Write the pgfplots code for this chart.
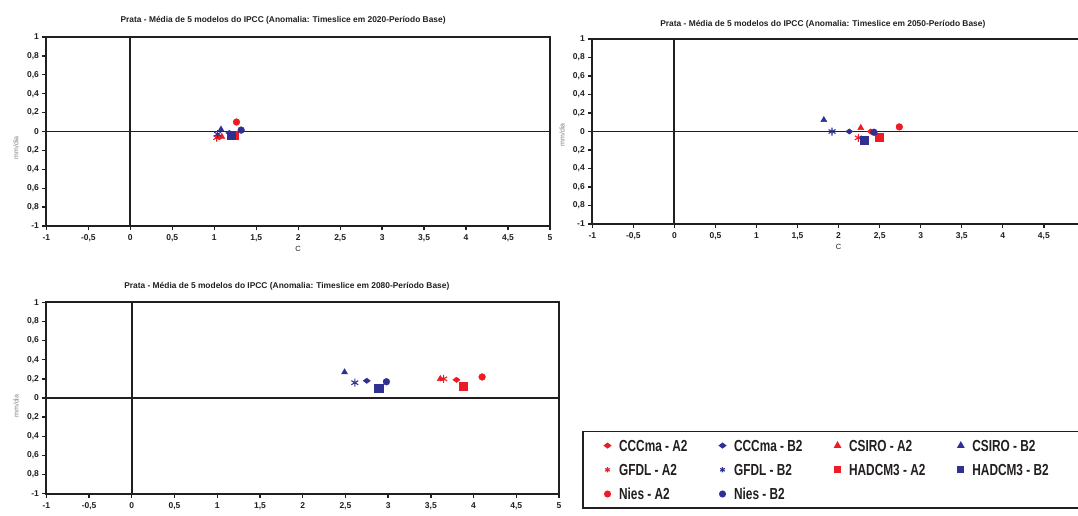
\documentclass[border=0pt]{standalone}
\usepackage{fontspec}
\setmainfont{Liberation Sans}
\usepackage{graphicx}
\usepackage{pgfplots}
\pgfplotsset{compat=1.18}
\definecolor{redc}{HTML}{ED1C24}
\definecolor{bluec}{HTML}{2E3192}
\definecolor{axc}{HTML}{231F20}
\newcommand{\legtxt}[2]{\makebox[#1][l]{\scalebox{0.74}[1]{#2}}}
\pgfplotsset{
 legimg/.style={legend image code/.code={\path[draw=none,fill=none] (-6pt,-3pt) rectangle (11.6pt,3pt);\draw[##1,mark size=#1] plot coordinates {(0pt,0pt)};}},
 cA/.style={only marks, color=redc, mark=diamond*, mark size=3.6pt, mark options={rotate=90}, legimg=2.8pt},
 cB/.style={only marks, color=bluec, mark=diamond*, mark size=3.6pt, mark options={rotate=90}, legimg=2.8pt},
 sA/.style={only marks, color=redc, mark=triangle*, mark size=3.5pt, legimg=2.9pt},
 sB/.style={only marks, color=bluec, mark=triangle*, mark size=3.5pt, legimg=2.9pt},
 gA/.style={only marks, color=redc, mark=asterisk, mark size=4pt, mark options={line width=1.1pt}, legimg=2.7pt},
 gB/.style={only marks, color=bluec, mark=asterisk, mark size=4pt, mark options={line width=1.1pt}, legimg=2.7pt},
 hA/.style={only marks, color=redc, mark=square*, mark size=4.1pt, legimg=2.7pt},
 hB/.style={only marks, color=bluec, mark=square*, mark size=4.1pt, legimg=2.7pt},
 nA/.style={only marks, color=redc, mark=*, mark size=3.4pt, legimg=2.7pt},
 nB/.style={only marks, color=bluec, mark=*, mark size=3.4pt, legimg=2.7pt},
 zl/.style={forget plot, no marks, line width=1.9pt, color=axc},
 base/.style={
  scale only axis, anchor=south west,
  xmin=-1, xmax=5, ymin=-1, ymax=1,
  xtick={-1,-0.5,0,0.5,1,1.5,2,2.5,3,3.5,4,4.5,5},
  xticklabels={-1,{-0,5},0,{0,5},1,{1,5},2,{2,5},3,{3,5},4,{4,5},5},
  ytick={-1,-0.8,-0.6,-0.4,-0.2,0,0.2,0.4,0.6,0.8,1},
  yticklabels={-1,{0,8},{0,6},{0,4},{0,2},0,{0,2},{0,4},{0,6},{0,8},1},
  tick align=outside, xtick pos=left, ytick pos=left,
  major tick length=4pt, tick style={line width=1.3pt, axc},
  axis line style={line width=1.9pt, axc},
  ticklabel style={font=\fontsize{8.5}{9}\selectfont\bfseries, text=axc},
  xticklabel style={yshift=-1pt},
  every axis title shift=0pt,
  title style={font=\fontsize{8.4}{9.5}\selectfont\bfseries, anchor=center, text=axc},
 },
}
\begin{document}
\begin{tikzpicture}[x=1pt,y=1pt]
\useasboundingbox (0,0) rectangle (1078,515);
% ---------- 2020 ----------
\begin{axis}[base, at={(46.4pt,289pt)}, width=503.6pt, height=189pt,
 title={Prata - Média de 5 modelos do IPCC (Anomalia: Timeslice em 2020-Período Base)},
 title style={at={(axis description cs:0.47,1.086)}},
 xlabel={C},
 every axis x label/.style={at={(axis description cs:0.5,-0.1217)}, anchor=center, font=\fontsize{7.5}{8}\selectfont, text=axc},
 ylabel={mm/dia},
 every axis y label/.style={at={(axis description cs:-0.0604,0.413)}, rotate=90, anchor=center, font=\fontsize{7}{8}\selectfont, text=gray},
]
\addplot[zl] coordinates {(0,-1) (0,1)};
\addplot[zl] coordinates {(-1,0) (5,0)};
\addplot[cA] coordinates {(1.06,-0.06)};
\addplot[cB] coordinates {(1.18,-0.015)};
\addplot[sA] coordinates {(1.09,-0.055)};
\addplot[sB] coordinates {(1.08,0.022)};
\addplot[gA] coordinates {(1.03,-0.065)};
\addplot[gB] coordinates {(1.04,-0.028)};
\addplot[hA] coordinates {(1.24,-0.04)};
\addplot[hB] coordinates {(1.20,-0.035)};
\addplot[nA] coordinates {(1.265,0.10)};
\addplot[nB] coordinates {(1.32,0.015)};
\end{axis}
% ---------- 2050 ----------
\begin{axis}[base, at={(592.3pt,291pt)}, width=492.6pt, height=185pt,
 xticklabels={-1,{-0,5},0,{0,5},1,{1,5},2,{2,5},3,{3,5},4,{4,5},{}},
 title={Prata - Média de 5 modelos do IPCC (Anomalia: Timeslice em 2050-Período Base)},
 title style={at={(axis description cs:0.468,1.081)}},
 xlabel={C},
 every axis x label/.style={at={(axis description cs:0.5,-0.1227)}, anchor=center, font=\fontsize{7.5}{8}\selectfont, text=axc},
 ylabel={mm/dia},
 every axis y label/.style={at={(axis description cs:-0.0615,0.481)}, rotate=90, anchor=center, font=\fontsize{7}{8}\selectfont, text=gray},
]
\addplot[zl] coordinates {(0,-1) (0,1)};
\addplot[zl] coordinates {(-1,0) (5,0)};
\addplot[cA] coordinates {(2.39,0)};
\addplot[cB] coordinates {(2.13,0)};
\addplot[sA] coordinates {(2.27,0.04)};
\addplot[sB] coordinates {(1.82,0.125)};
\addplot[gA] coordinates {(2.24,-0.068)};
\addplot[gB] coordinates {(1.92,0)};
\addplot[hA] coordinates {(2.49,-0.065)};
\addplot[hB] coordinates {(2.31,-0.095)};
\addplot[nA] coordinates {(2.74,0.05)};
\addplot[nB] coordinates {(2.43,-0.008)};
\end{axis}
% ---------- 2080 ----------
\begin{axis}[base, at={(46.4pt,21.3pt)}, width=512.6pt, height=191.4pt,
 title={Prata - Média de 5 modelos do IPCC (Anomalia: Timeslice em 2080-Período Base)},
 title style={at={(axis description cs:0.469,1.085)}},
 ylabel={mm/dia},
 every axis y label/.style={at={(axis description cs:-0.0593,0.458)}, rotate=90, anchor=center, font=\fontsize{7}{8}\selectfont, text=gray},
 legend columns=4,
 legend cell align=left,
 legend style={at={(axis description cs:1.0455,0.3292)}, anchor=north west,
   draw=axc, line width=1.6pt, fill=white,
   inner xsep=18.4pt, inner ysep=6.6pt, row sep=9.2pt, column sep=0pt,
   font=\fontsize{16}{16}\selectfont\bfseries, text=axc,
   nodes={inner sep=0pt, text height=13pt, text depth=2pt}},
]
\addplot[zl] coordinates {(0,-1) (0,1)};
\addplot[zl] coordinates {(-1,0) (5,0)};
\addplot[cA] coordinates {(3.80,0.19)};
\addplot[cB] coordinates {(2.75,0.18)};
\addplot[sA] coordinates {(3.61,0.20)};
\addplot[sB] coordinates {(2.49,0.27)};
\addplot[gA] coordinates {(3.65,0.20)};
\addplot[gB] coordinates {(2.61,0.16)};
\addplot[hA] coordinates {(3.88,0.12)};
\addplot[hB] coordinates {(2.89,0.10)};
\addplot[nA] coordinates {(4.10,0.22)};
\addplot[nB] coordinates {(2.98,0.17)};
\legend{\legtxt{97.4pt}{CCCma - A2},\legtxt{97.4pt}{CCCma - B2},\legtxt{105.7pt}{CSIRO - A2},\legtxt{92pt}{CSIRO - B2},
 \legtxt{97.4pt}{GFDL - A2},\legtxt{97.4pt}{GFDL - B2},\legtxt{105.7pt}{HADCM3 - A2},\legtxt{92pt}{HADCM3 - B2},
 \legtxt{97.4pt}{Nies - A2},\legtxt{97.4pt}{Nies - B2}}
\end{axis}
\end{tikzpicture}
\end{document}
